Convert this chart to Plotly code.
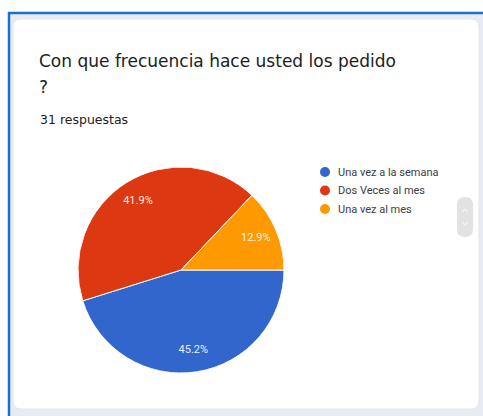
import plotly.graph_objects as go

# Survey answers: "Con que frecuencia hace usted los pedido?" (31 respuestas)
labels = ["Una vez a la semana", "Dos Veces al mes", "Una vez al mes"]
counts = [14, 13, 4]
colors = ["#3366cc", "#dc3912", "#ff9900"]

title_line1 = "Con que frecuencia hace usted los pedido"
title_line2 = "?"
subtitle = "31 respuestas"

W, H = 483, 416
PIE_DOMAIN = dict(x=[78 / W, 284 / W], y=[1 - 373 / H, 1 - 167 / H])
LABEL_RADIUS = 0.79


def px(x):
    return x / W


def py(y):
    return 1 - y / H


def rounded_rect(x0, y0, x1, y1, r):
    return (f"M {px(x0 + r)} {py(y0)} L {px(x1 - r)} {py(y0)} "
            f"Q {px(x1)} {py(y0)} {px(x1)} {py(y0 + r)} "
            f"L {px(x1)} {py(y1 - r)} Q {px(x1)} {py(y1)} {px(x1 - r)} {py(y1)} "
            f"L {px(x0 + r)} {py(y1)} Q {px(x0)} {py(y1)} {px(x0)} {py(y1 - r)} "
            f"L {px(x0)} {py(y0 + r)} Q {px(x0)} {py(y0)} {px(x0 + r)} {py(y0)} Z")


# slice geometry in degrees, measured clockwise from 3 o'clock
total = sum(counts)
shares = [c / total for c in counts]
spans = [360 * s for s in shares]
mid_angles = []
acc = 0.0
for sp in spans:
    mid_angles.append(acc + sp / 2)
    acc += sp

fig = go.Figure()

# pie wedges drawn on a polar scale
fig.add_trace(go.Barpolar(
    r=[1] * len(counts),
    theta=mid_angles,
    width=spans,
    marker=dict(color=colors, line=dict(color="white", width=1)),
    text=labels,
    hovertemplate="%{text}<extra></extra>",
    showlegend=False,
))

# percentage labels inside each wedge
fig.add_trace(go.Scatterpolar(
    r=[LABEL_RADIUS] * len(counts),
    theta=mid_angles,
    mode="text",
    text=[f"{s * 100:.1f}%" for s in shares],
    textfont=dict(family="Roboto", size=11, color="rgba(255,255,255,0.92)"),
    hoverinfo="skip",
    showlegend=False,
))

shapes = [
    # frame background and card
    dict(type="rect", xref="paper", yref="paper", x0=px(9), x1=1, y0=0, y1=py(13),
         fillcolor="#e8ecf2", line=dict(width=0), layer="below"),
    dict(type="path", xref="paper", yref="paper", path=rounded_rect(13, 19, 479, 409, 8),
         fillcolor="white", line=dict(color="#e3e6ea", width=1), layer="below"),
    dict(type="line", xref="paper", yref="paper", x0=px(8), x1=1, y0=py(13), y1=py(13),
         line=dict(color="#1a6fd2", width=2.5)),
    dict(type="line", xref="paper", yref="paper", x0=px(9), x1=px(9), y0=py(12), y1=0,
         line=dict(color="#1a6fd2", width=2.5)),
    # legend scroll control
    dict(type="path", xref="paper", yref="paper", path=rounded_rect(457, 197, 473, 237, 8),
         fillcolor="#e2e2e2", line=dict(width=0)),
    dict(type="path", xref="paper", yref="paper",
         path=f"M {px(462)} {py(212)} L {px(465)} {py(209)} L {px(468)} {py(212)}",
         line=dict(color="#f4f4f4", width=1.2)),
    dict(type="path", xref="paper", yref="paper",
         path=f"M {px(462)} {py(222)} L {px(465)} {py(225)} L {px(468)} {py(222)}",
         line=dict(color="#f4f4f4", width=1.2)),
]

annotations = [
    dict(text=title_line1, x=px(37), y=py(49), xref="paper", yref="paper",
         xanchor="left", yanchor="top", showarrow=False,
         font=dict(family="DejaVu Sans", size=17, color="#202124")),
    dict(text=title_line2, x=px(37), y=py(75), xref="paper", yref="paper",
         xanchor="left", yanchor="top", showarrow=False,
         font=dict(family="DejaVu Sans", size=17, color="#202124")),
    dict(text=subtitle, x=px(38), y=py(110), xref="paper", yref="paper",
         xanchor="left", yanchor="top", showarrow=False,
         font=dict(family="DejaVu Sans", size=12.5, color="#202124")),
]

# legend: coloured dots with labels, one row per category
LEG_X, LEG_Y, LEG_STEP, DOT_R = 325, 172, 18.5, 5
for i, (name, col) in enumerate(zip(labels, colors)):
    yc = LEG_Y + i * LEG_STEP
    shapes.append(dict(type="circle", xref="paper", yref="paper",
                       x0=px(LEG_X - DOT_R), x1=px(LEG_X + DOT_R),
                       y0=py(yc + DOT_R), y1=py(yc - DOT_R),
                       fillcolor=col, line=dict(width=0)))
    annotations.append(dict(text=name, x=px(LEG_X + 11), y=py(yc), xref="paper", yref="paper",
                            xanchor="left", yanchor="middle", showarrow=False,
                            font=dict(family="Roboto", size=11, color="#3c4043")))

fig.update_layout(
    width=W, height=H,
    margin=dict(l=0, r=0, t=0, b=0),
    paper_bgcolor="white",
    polar=dict(
        domain=PIE_DOMAIN,
        bgcolor="rgba(0,0,0,0)",
        bargap=0,
        radialaxis=dict(range=[0, 1], visible=False),
        angularaxis=dict(rotation=0, direction="clockwise", visible=False),
    ),
    shapes=shapes,
    annotations=annotations,
    showlegend=False,
)

fig.write_html("out.html")
